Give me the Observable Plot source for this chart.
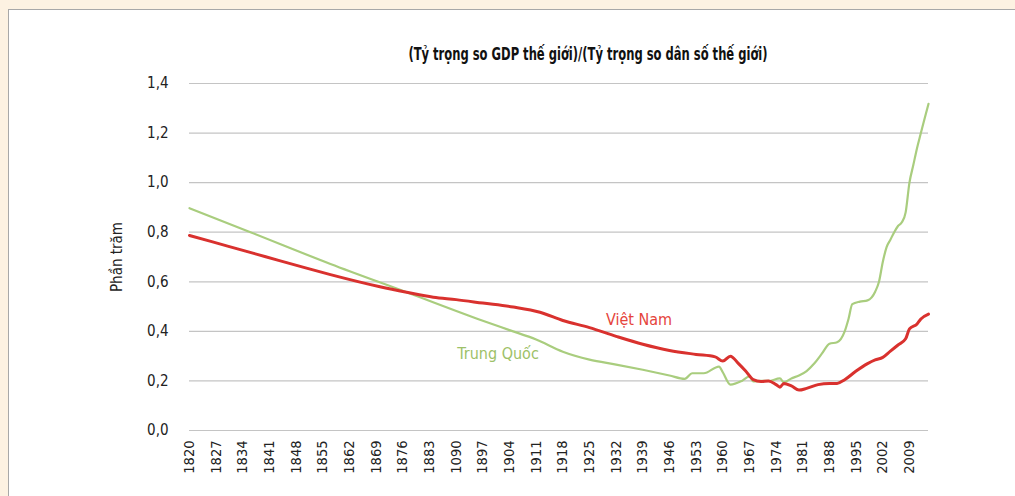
<!DOCTYPE html>
<html>
<head>
<meta charset="utf-8">
<script src="https://cdn.jsdelivr.net/npm/d3@7"></script>
<script src="https://cdn.jsdelivr.net/npm/@observablehq/plot@0.6"></script>
<style>
  html, body { margin: 0; padding: 0; }
  body { width: 1015px; height: 496px; background: #fdf2e2; position: relative; overflow: hidden;
         font-family: "DejaVu Sans Condensed", "Liberation Sans Narrow", "Roboto", sans-serif; }
  #panel { position: absolute; left: 8px; top: 9px; width: 1020px; height: 500px; background: #fff;
           border-top: 1px solid #a8a8a8; border-left: 1px solid #a8a8a8; }
  #title { position: absolute; left: 588px; top: 44px; white-space: nowrap;
           transform: translateX(-50%) scaleX(0.755); transform-origin: center;
           font-weight: bold; font-size: 17px; color: #111; }
  #chart { position: absolute; left: 0; top: 70px; }
</style>
</head>
<body>
<div id="panel"></div>
<div id="title"></div>
<div id="chart"></div>
<script>
// ---- data ----
const vnYears = [1820,1830,1840,1850,1857,1870,1877,1884,1890,1897,1905,1912,1918,1925,1932,1939,1946,1953,1958,1960,1962,1964,1966,1968,1970,1972,1974,1975,1976,1978,1980,1982,1985,1988,1990,1992,1995,1998,2000,2002,2004,2006,2008,2009,2011,2012,2014];
const vnValues = [0.787,0.744,0.701,0.658,0.629,0.58,0.558,0.538,0.528,0.514,0.498,0.477,0.444,0.415,0.38,0.348,0.323,0.307,0.297,0.28,0.3,0.272,0.24,0.205,0.198,0.2,0.185,0.175,0.19,0.18,0.163,0.17,0.185,0.19,0.19,0.205,0.24,0.27,0.285,0.295,0.32,0.345,0.37,0.41,0.43,0.45,0.47];

const cnYears = [1820,1836,1857,1877,1897,1904,1911,1918,1925,1932,1939,1946,1950,1952,1955,1959,1960,1962,1965,1967,1968,1970,1972,1975,1976,1978,1980,1982,1984,1986,1988,1990,1992,1993,1994,1996,1998,2000,2001,2002,2003,2004,2005,2006,2007,2008,2009,2010,2011,2012,2013,2014];
const cnValues = [0.897,0.8,0.672,0.558,0.443,0.405,0.367,0.318,0.286,0.266,0.245,0.222,0.208,0.231,0.231,0.258,0.235,0.185,0.2,0.218,0.198,0.2,0.2,0.21,0.195,0.21,0.222,0.24,0.27,0.31,0.35,0.356,0.4,0.45,0.51,0.52,0.525,0.56,0.6,0.68,0.74,0.77,0.8,0.825,0.84,0.88,1.0,1.07,1.14,1.2,1.26,1.318];

const seriesNames = ["Việt Nam", "Trung Quốc"];
const labelYears = [1938, 1901];
const labelValues = [0.445, 0.31];

const yTicks = [0, 0.2, 0.4, 0.6, 0.8, 1.0, 1.2, 1.4];
const xTicks = d3.range(1820, 2010, 7);
const xTickLabels = xTicks.map(y => y === 1890 ? "1090" : String(y));

const title = "(Tỷ trọng so GDP thế giới)/(Tỷ trọng so dân số thế giới)";
const yLabel = "Phần trăm";

// ---- build ----
document.getElementById("title").textContent = title;
const vn = vnYears.map((y, i) => ({year: y, value: vnValues[i]}));
const cn = cnYears.map((y, i) => ({year: y, value: cnValues[i]}));
const labels = seriesNames.map((n, i) => ({name: n, year: labelYears[i], value: labelValues[i]}));
const colors = {"Việt Nam": "#e5443c", "Trung Quốc": "#9dc168"};
const tickLabelMap = new Map(xTicks.map((t, i) => [t, xTickLabels[i]]));

const chart = Plot.plot({
  width: 1015,
  height: 426,
  marginLeft: 189,
  marginRight: 87,
  marginTop: 13,
  marginBottom: 66,
  style: {fontFamily: '"DejaVu Sans Condensed", "Liberation Sans Narrow", sans-serif', background: "transparent", color: "#222"},
  x: {domain: [1820, 2014]},
  y: {domain: [0, 1.4]},
  marks: [
    Plot.gridY(yTicks, {stroke: "#c4c4c4", strokeOpacity: 1, strokeWidth: 1.2}),
    Plot.axisY(yTicks, {tickSize: 0, tickPadding: 21, fontSize: 15, tickFormat: d => d.toFixed(1).replace(".", ","),
      label: yLabel, labelAnchor: "center", labelArrow: "none", labelOffset: 78}),
    Plot.axisX(xTicks, {tickSize: 0, tickRotate: -90, tickPadding: 10, fontSize: 14.5,
      tickFormat: d => tickLabelMap.get(d), label: null}),
    Plot.line(cn, {x: "year", y: "value", stroke: "#a9cd7e", strokeWidth: 2.2, curve: "monotone-x"}),
    Plot.line(vn, {x: "year", y: "value", stroke: "#d9312e", strokeWidth: 3, curve: "monotone-x"}),
    Plot.text(labels, {x: "year", y: "value", text: "name", fill: d => colors[d.name], fontSize: 16})
  ]
});
chart.querySelectorAll('[aria-label="y-axis label"] text').forEach(t => t.setAttribute("font-size", 15));
document.getElementById("chart").appendChild(chart);
</script>
</body>
</html>
